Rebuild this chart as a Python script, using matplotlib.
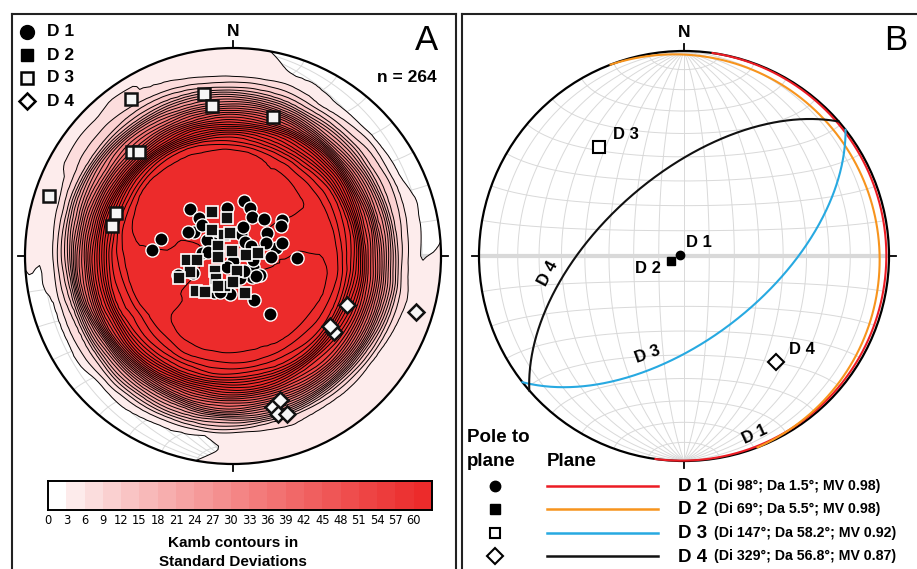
import numpy as np
import matplotlib
matplotlib.use("Agg")
import matplotlib.pyplot as plt
from matplotlib.patches import Circle
from matplotlib.colors import ListedColormap, to_rgb
from matplotlib import font_manager

_names = {f.name for f in font_manager.fontManager.ttflist}
MAIN_FONT = 'Liberation Sans' if 'Liberation Sans' in _names else 'DejaVu Sans'
plt.rcParams['font.family'] = [MAIN_FONT, 'DejaVu Sans']

# ---------------- data ----------------
N_TOTAL = 264
# poles to planes (trend, plunge in degrees), panel A
d1_trend = [283, 274, 317, 318, 353, 11, 20, 26, 40, 54, 58, 55, 79, 75, 92, 92, 68, 155, 147, 301,
            275, 251, 247, 19, 138, 119, 125, 185, 208, 298, 315, 312, 18, 41, 62, 101, 131, 162, 199, 303,
            302, 279, 180, 209, 144]
d1_plunge = [61, 58, 65, 70, 71, 68, 70, 73, 71, 66, 68, 74, 73, 70, 65, 75, 76, 71, 63, 72,
             78, 67, 73, 81, 79, 81, 77, 75, 74, 70, 73, 79, 78, 83, 82, 82, 78, 81, 75, 81,
             78, 80, 88, 85, 83]
d2_trend = [351, 335, 320, 338, 353, 304, 345, 85, 83, 265, 264, 250, 248, 266, 166, 231, 216, 195, 227, 218,
            162, 180, 206]
d2_plunge = [75, 71, 77, 81, 81, 83, 88, 85, 80, 72, 76, 72, 67, 84, 84, 81, 79, 78, 70, 72,
             75, 80, 77]
d3_trend = [327, 350, 352, 16, 316, 318, 288, 290, 284]
d3_plunge = [11, 22, 28, 31, 31, 33, 8, 40, 40]
d4_trend = [113, 127, 126, 107, 165, 162, 164, 161]
d4_plunge = [40, 39, 42, 9, 26, 28, 22, 21]

# mean planes, panel B: values printed in the legend
plane_names = ['D 1', 'D 2', 'D 3', 'D 4']
legend_di = [98, 69, 147, 329]
legend_da = [1.5, 5.5, 58.2, 56.8]
legend_mv = [0.98, 0.98, 0.92, 0.87]
# planes as drawn in the stereonet (dip direction, dip)
plane_dipdir = [98, 69, 142, 319]
plane_dip = [1.5, 5.5, 57.0, 58.0]
plane_colors = ['#ec1c24', '#f7941d', '#27a9e1', '#111111']

cbar_levels = list(range(0, 64, 3))          # 0 ... 63
cbar_ticks = list(range(0, 61, 3))           # 0 ... 60
COUNT_ANGLE = 59.0
EDGE_SOFT = 2.0
KAMB_K = 3.0
CROWD_ANGLE = 10.0
CROWD_POWER = 1.5

# ---------------- helpers ----------------
W, H = 917, 569
fig = plt.figure(figsize=(W / 100, H / 100), dpi=100)


def line_vec(trend, plunge):
    t = np.radians(np.asarray(trend, float))
    p = np.radians(np.asarray(plunge, float))
    return np.stack([np.cos(p) * np.sin(t), np.cos(p) * np.cos(t), np.sin(p)], axis=-1)


def proj(v):
    v = np.asarray(v, float)
    v = v / np.linalg.norm(v, axis=-1, keepdims=True)
    s = 1.0 / np.sqrt(1.0 + np.clip(v[..., 2], 0, None))
    return v[..., 0] * s, v[..., 1] * s


def plane_xy(dipdir, dip, n=400):
    s = np.radians(dipdir - 90.0)
    dd = np.radians(dipdir)
    d = np.radians(dip)
    sv = np.array([np.sin(s), np.cos(s), 0.0])
    dv = np.array([np.cos(d) * np.sin(dd), np.cos(d) * np.cos(dd), np.sin(d)])
    th = np.linspace(0, np.pi, n)
    v = np.outer(np.cos(th), sv) + np.outer(np.sin(th), dv)
    return proj(v)


def make_panel(px0, px1, cx, cy, R, right_spine=True):
    ax = fig.add_axes([px0 / W, 0, (px1 - px0) / W, (H - 14) / H])
    ax.set_xlim((px0 - cx) / R, (px1 - cx) / R)
    ax.set_ylim((cy - H) / R, (cy - 14) / R)
    ax.set_xticks([])
    ax.set_yticks([])
    for k, sp in ax.spines.items():
        sp.set_linewidth(1.5)
        sp.set_color('#222222')
    ax.spines['bottom'].set_visible(False)
    if not right_spine:
        ax.spines['right'].set_visible(False)
    return ax


def draw_net(ax, color='#d9d9d9', lw=0.7):
    phi = np.linspace(0, np.pi, 241)
    for a in range(10, 180, 10):
        ar = np.radians(a)
        v = np.stack([np.sin(ar) * np.cos(phi), np.full_like(phi, np.cos(ar)), np.sin(ar) * np.sin(phi)], -1)
        x, y = proj(v)
        ax.plot(x, y, color=color, lw=(3.0 if a == 90 else lw), zorder=1, solid_capstyle='butt')
    for d in range(10, 180, 10):
        dr = np.radians(d)
        v = np.stack([np.sin(phi) * np.cos(dr), np.cos(phi), np.sin(phi) * np.sin(dr)], -1)
        x, y = proj(v)
        ax.plot(x, y, color=color, lw=lw, zorder=1)
    ax.add_patch(Circle((0, 0), 1, fill=False, ec='black', lw=1.6, zorder=5))
    tl = 0.035
    ax.plot([0, 0], [1, 1 + tl], color='black', lw=1.3, zorder=5)
    ax.plot([0, 0], [-1, -1 - tl], color='black', lw=1.3, zorder=5)
    ax.plot([1, 1 + tl], [0, 0], color='black', lw=1.3, zorder=5)
    ax.plot([-1, -1 - tl], [0, 0], color='black', lw=1.3, zorder=5)


# colours of the Kamb colour scale (white -> red)
red = np.array(to_rgb('#ec2b2b'))
white = np.ones(3)
ncol = len(cbar_levels) - 1
cols = [tuple(white + (red - white) * (i / (ncol - 1)) ** 0.8) for i in range(ncol)]

# ================= Panel A =================
CXA, CYA, RA = 233, 256, 208
axA = make_panel(12, 456, CXA, CYA, RA)
draw_net(axA)


def pa(px, py):
    return (px - CXA) / RA, (CYA - py) / RA


# Kamb-style counting on the lower hemisphere.
# The overplotted central markers hide most of the n poles: each one carries a share of the
# hidden poles that grows with how many markers are crowded around it.
central = np.concatenate([line_vec(d1_trend, d1_plunge), line_vec(d2_trend, d2_plunge)])
others = np.concatenate([line_vec(d3_trend, d3_plunge), line_vec(d4_trend, d4_plunge)])
crowd = (np.abs(central @ central.T) >= np.cos(np.radians(CROWD_ANGLE))).sum(axis=1).astype(float)
crowd = crowd ** CROWD_POWER
w_central = (N_TOTAL - len(others)) * crowd / crowd.sum()
vecs = np.concatenate([central, others])
weights = np.concatenate([w_central, np.ones(len(others))])
aK = KAMB_K ** 2 / (N_TOTAL + KAMB_K ** 2)
sigma = np.sqrt(N_TOTAL * aK * (1 - aK))

g = np.linspace(-1.03, 1.03, 125)
GX, GY = np.meshgrid(g, g)
R2 = GX ** 2 + GY ** 2
Dg = 1 - R2
fac = np.sqrt(np.clip(1 + Dg, 0, None))
G = np.stack([GX * fac, GY * fac, Dg], -1)
G /= np.linalg.norm(G, axis=-1, keepdims=True)
cosd = np.abs(G @ vecs.T)
c_in = np.cos(np.radians(COUNT_ANGLE - EDGE_SOFT))
c_out = np.cos(np.radians(COUNT_ANGLE + EDGE_SOFT))
kern = np.clip((cosd - c_out) / (c_in - c_out), 0, 1)
count = kern @ weights
dens = count / sigma

top = max(dens.max() + 1, 64)
fill_levels = cbar_levels[1:] + [top]
fill_cols = cols[1:] + [cols[-1]]
cf = axA.contourf(GX, GY, dens, levels=fill_levels, colors=fill_cols, zorder=2)
cf.set_clip_path(Circle((0, 0), 1, transform=axA.transData))
line_levels = np.arange(3, dens.max(), 3)
cl = axA.contour(GX, GY, dens, levels=line_levels, colors='black', linewidths=0.7, zorder=3)
cl.set_clip_path(Circle((0, 0), 1, transform=axA.transData))

x1, y1 = proj(line_vec(d1_trend, d1_plunge))
x2, y2 = proj(line_vec(d2_trend, d2_plunge))
x3, y3 = proj(line_vec(d3_trend, d3_plunge))
x4, y4 = proj(line_vec(d4_trend, d4_plunge))
axA.plot(x1, y1, 'o', ms=9.5, mfc='black', mec='white', mew=1.0, ls='none', zorder=7)
axA.plot(x2, y2, 's', ms=9, mfc='#111111', mec='white', mew=1.2, ls='none', zorder=8)
axA.plot(x3, y3, 's', ms=9, mfc='#f5f5f5', mec='#111111', mew=1.8, ls='none', zorder=9)
axA.plot(x4, y4, 'D', ms=8.5, mfc='#f8f8f8', mec='#111111', mew=1.8, ls='none', zorder=9)

# legend of panel A
leg_y = [32, 55, 78, 101]
leg_style = [dict(marker='o', ms=10, mfc='black', mec='black'),
             dict(marker='s', ms=8, mfc='black', mec='black'),
             dict(marker='s', ms=8, mfc='#f5f5f5', mec='black', mew=1.8),
             dict(marker='D', ms=8, mfc='white', mec='black', mew=1.8)]
for yy, st, nm in zip(leg_y, leg_style, plane_names):
    axA.plot(*pa(27, yy), ls='none', zorder=10, clip_on=False, **st)
    axA.text(*pa(47, yy), nm, ha='left', va='center', fontsize=12.5, fontweight='bold')

axA.text(*pa(233, 31), 'N', ha='center', va='center', fontsize=12.5, fontweight='bold')
axA.text(*pa(438, 41), 'A', ha='right', va='center', fontsize=25)
axA.text(*pa(437, 78), f'n = {N_TOTAL}', ha='right', va='center', fontsize=12.5, fontweight='bold')

# colour bar
cax = fig.add_axes([48 / W, (H - 510) / H, 384 / W, 29 / H])
cax.imshow(np.arange(ncol)[None, :], cmap=ListedColormap(cols), aspect='auto',
           extent=[cbar_levels[0], cbar_levels[-1], 0, 1], interpolation='nearest')
cax.set_xlim(cbar_levels[0], cbar_levels[-1])
cax.set_yticks([])
cax.set_xticks(cbar_ticks)
cax.set_xticklabels([str(t) for t in cbar_ticks], fontsize=8.3, family='DejaVu Sans')
cax.tick_params(axis='x', length=0, pad=3)
for sp in cax.spines.values():
    sp.set_linewidth(1.4)
fig.text(233 / W, 1 - 543 / H, 'Kamb contours in', ha='center', va='center', fontsize=11, fontweight='bold')
fig.text(233 / W, 1 - 562 / H, 'Standard Deviations', ha='center', va='center', fontsize=11, fontweight='bold')

# ================= Panel B =================
CXB, CYB, RB = 684, 256, 205
axB = make_panel(462, 918, CXB, CYB, RB, right_spine=False)
draw_net(axB)


def pb(px, py):
    return (px - CXB) / RB, (CYB - py) / RB


for dd, dp, c in zip(plane_dipdir, plane_dip, plane_colors):
    x, y = plane_xy(dd, dp)
    axB.plot(x, y, color=c, lw=1.5, zorder=6)

pole_tr = [(d + 180) % 360 for d in plane_dipdir]
pole_pl = [90 - d for d in plane_dip]
px_, py_ = proj(line_vec(pole_tr, pole_pl))
pole_styles = [dict(marker='o', ms=6, mfc='black', mec='black'),
               dict(marker='s', ms=6, mfc='black', mec='black'),
               dict(marker='s', ms=8, mfc='white', mec='black', mew=1.5),
               dict(marker='D', ms=8, mfc='white', mec='black', mew=1.5)]
for i in range(4):
    axB.plot(px_[i], py_[i], ls='none', zorder=8, **pole_styles[i])

axB.text(*pb(699, 243), 'D 1', ha='center', va='center', fontsize=12, fontweight='bold', zorder=9)
axB.text(*pb(648, 269), 'D 2', ha='center', va='center', fontsize=12, fontweight='bold', zorder=9)
axB.text(*pb(626, 135), 'D 3', ha='center', va='center', fontsize=12, fontweight='bold', zorder=9)
axB.text(*pb(802, 350), 'D 4', ha='center', va='center', fontsize=12, fontweight='bold', zorder=9)
axB.text(*pb(548, 273), 'D 4', ha='center', va='center', fontsize=12, fontweight='bold', rotation=62, zorder=9)
axB.text(*pb(648, 354), 'D 3', ha='center', va='center', fontsize=12, fontweight='bold', rotation=20, zorder=9)
axB.text(*pb(755, 434), 'D 1', ha='center', va='center', fontsize=12, fontweight='bold', rotation=25, zorder=9)

axB.text(*pb(684, 33), 'N', ha='center', va='center', fontsize=12.5, fontweight='bold')
axB.text(*pb(907, 41), 'B', ha='right', va='center', fontsize=25)

# legend of panel B
axB.text(*pb(467, 437), 'Pole to', ha='left', va='center', fontsize=13.5, fontweight='bold')
axB.text(*pb(467, 462), 'plane', ha='left', va='center', fontsize=13.5, fontweight='bold')
axB.text(*pb(547, 462), 'Plane', ha='left', va='center', fontsize=13.5, fontweight='bold')
row_y = [486, 509, 533, 556]
leg_b_styles = [dict(marker='o', ms=7.5, mfc='black', mec='black'),
                dict(marker='s', ms=6.5, mfc='black', mec='black'),
                dict(marker='s', ms=7.5, mfc='white', mec='black', mew=1.5),
                dict(marker='D', ms=8, mfc='white', mec='black', mew=1.5)]
for i in range(4):
    yy = row_y[i]
    axB.plot(*pb(495, yy), ls='none', zorder=8, clip_on=False, **leg_b_styles[i])
    (lx0, ly), (lx1, _) = pb(547, yy), pb(658, yy)
    axB.plot([lx0, lx1], [ly, ly], color=plane_colors[i], lw=1.8)
    axB.text(*pb(678, yy + 1), plane_names[i], ha='left', va='center', fontsize=13.5, fontweight='bold')
    axB.text(*pb(714, yy), f'(Di {legend_di[i]}°; Da {legend_da[i]:g}°; MV {legend_mv[i]:.2f})',
             ha='left', va='center', fontsize=10.2, fontweight='bold')

fig.savefig('out.png', dpi=100)
